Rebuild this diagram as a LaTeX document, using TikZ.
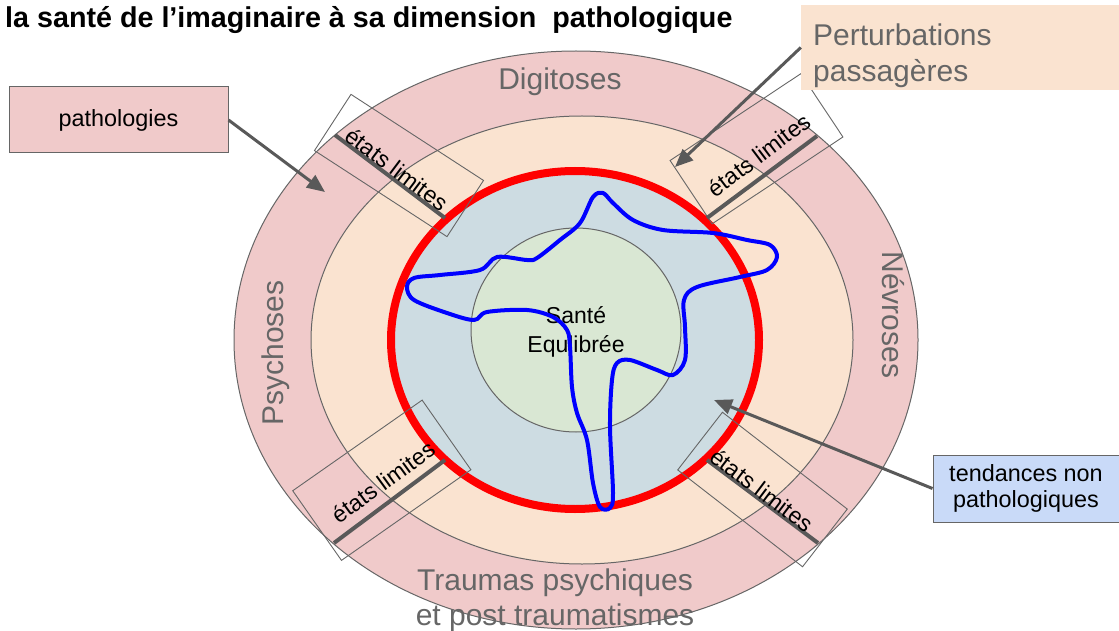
\documentclass[tikz,border=0pt]{standalone}
\usepackage{fontspec}
\setmainfont{Liberation Sans}
\usepackage{tikz}
\usetikzlibrary{arrows.meta}
\definecolor{ringpink}{RGB}{240,202,202}
\definecolor{ringpeach}{RGB}{250,227,208}
\definecolor{innerblue}{RGB}{205,220,226}
\definecolor{coregreen}{RGB}{217,231,211}
\definecolor{tagblue}{RGB}{201,218,248}
\definecolor{linegray}{RGB}{102,102,102}
\definecolor{arrowgray}{RGB}{89,89,89}

\begin{document}
\begin{tikzpicture}[
    x=1pt, y=-1pt,
    ring/.style={draw=linegray, line width=1pt},
    limbox/.style={draw=linegray, line width=0.9pt, inner sep=0pt},
    limtxt/.style={font=\fontsize{23}{26}\selectfont, inner sep=0pt},
    limbar/.style={draw=arrowgray, line width=4pt},
    lbl/.style={text=linegray, font=\fontsize{30}{35}\selectfont, align=center, inner sep=0pt},
    tag/.style={draw=linegray, line width=1pt, minimum height=66pt, align=center,
                font=\fontsize{23.4}{26}\selectfont},
    arr/.style={-{Triangle[length=18pt, width=15pt]}, draw=arrowgray, line width=3pt},
]
\useasboundingbox (0,0) rectangle (1119,631);

% rings
\draw[ring, fill=ringpink] (576,340) ellipse [x radius=342, y radius=289];
\draw[ring, fill=ringpeach] (582,340) ellipse [x radius=271, y radius=224];
\draw[draw=red, line width=8pt, fill=innerblue] (575,340) ellipse [x radius=184, y radius=169];
\draw[ring, fill=coregreen] (576,330) ellipse [x radius=105, y radius=102];

\node[align=center, font=\fontsize{23}{29}\selectfont, inner sep=0pt] (sante) at (576,332) {Santé\\Equlibrée};

% contour
\draw[blue, line width=4pt, line join=round] plot[smooth cycle, tension=0.55] coordinates {
  (474,320) (447,313) (414,300) (407,287) (414,278) (440,275) (480,270) (497,257)
  (527,260) (537,258) (560,240) (580,223) (593,197) (603,193) (613,203) (633,220)
  (663,230) (713,233) (747,240) (770,245) (777,257) (767,270) (740,277) (697,287)
  (684,300) (685,327) (685,360) (673,375) (657,370) (630,360) (617,363) (612,380)
  (610,427) (613,493) (610,508) (600,507) (593,483) (587,440) (577,413) (572,387)
  (570,347) (567,330) (553,317) (527,310) (487,312)};

% etats limites
\node[limbox, minimum width=158pt, minimum height=67pt, rotate=-33] (box1) at (399,165.5) {};
\node[limbox, minimum width=157pt, minimum height=76pt, rotate=33.6] (box2) at (756.5,148.75) {};
\node[limbox, minimum width=158pt, minimum height=85pt, rotate=35] (box3) at (381.8,480.25) {};
\node[limbox, minimum width=158pt, minimum height=73pt, rotate=-37.8] (box4) at (762.5,489.5) {};

\coordinate (bar1a) at (335,135); \coordinate (bar1b) at (445,218);
\coordinate (bar2a) at (817,136); \coordinate (bar2b) at (707,218);
\coordinate (bar3a) at (445,460); \coordinate (bar3b) at (334,543);
\coordinate (bar4a) at (707,460); \coordinate (bar4b) at (818,543);
\draw[limbar] (bar1a) -- (bar1b);
\draw[limbar] (bar2a) -- (bar2b);
\draw[limbar] (bar3a) -- (bar3b);
\draw[limbar] (bar4a) -- (bar4b);

\node[limtxt, rotate=-37] (lim1) at (397,169) {états limites};
\node[limtxt, rotate=37] (lim2) at (759,155) {états limites};
\node[limtxt, rotate=36] (lim3) at (383,482) {états limites};
\node[limtxt, rotate=-37] (lim4) at (762,490) {états limites};

% ring names
\node[lbl, anchor=base] (digi) at (560,90) {Digitoses};
\node[lbl, rotate=90] (psy) at (276,353) {Psychoses};
\node[lbl, rotate=-90] (nev) at (893,315) {Névroses};
\node[lbl] (trau) at (555,600) {Traumas psychiques\\et post traumatismes};

% labels
\node[font=\bfseries\fontsize{28.7}{32}\selectfont, anchor=base west, inner sep=0pt] (title) at (5,28)
  {la santé de l’imaginaire à sa dimension\ \ pathologique};
\node[tag, fill=ringpink, minimum width=219pt] (patho) at (118.5,120) {pathologies};
\node[fill=ringpeach, minimum width=318pt, minimum height=85pt, inner sep=0pt] (pertbox) at (960,47.5) {};
\node[anchor=north west, inner sep=0pt, align=left, text=linegray, font=\fontsize{30}{36}\selectfont]
  (pert) at (813,24) {Perturbations\\passagères};
\node[tag, fill=tagblue, minimum width=186pt, minimum height=67pt] (tend) at (1026,488.5) {tendances non\\pathologiques};

\coordinate (pathoTip) at (325,192);
\coordinate (pertTip) at (675,167);
\coordinate (tendTip) at (714,400);
\draw[arr] (patho.east) -- (pathoTip);
\draw[arr] (pertbox.west) -- (pertTip);
\draw[arr] (tend.west) -- (tendTip);
\end{tikzpicture}
\end{document}
